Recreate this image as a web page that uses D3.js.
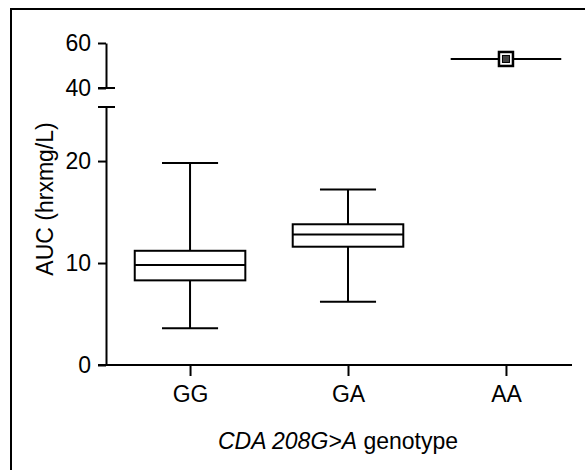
<!DOCTYPE html>
<html>
<head>
<meta charset="utf-8">
<script src="https://cdn.jsdelivr.net/npm/d3@7"></script>
<style>
  body { margin: 0; background: #fff; }
  text { font-family: "Liberation Sans", Arial, Helvetica, sans-serif; fill: #000; }
</style>
</head>
<body>
<div id="chart"></div>
<script>
// Data
// ============================================================================
const genotypes = ["GG", "GA", "AA"];
const whiskerLow = [3.6, 6.2, 52.9];
const q1 = [8.3, 11.6, 52.9];
const median = [9.8, 12.8, 52.9];
const q3 = [11.2, 13.8, 52.9];
const whiskerHigh = [19.8, 17.2, 52.9];
const lowerTicks = [0, 10, 20];
const upperTicks = [40, 60];

// Layout
// ============================================================================
const W = 585, H = 470,
    axisX = 106,
    xEnd = 572,
    lowerBreak = 25.3;

const svg = d3.select("#chart").append("svg")
    .attr("width", W)
    .attr("height", H);

// Frame (right and bottom edges are cropped in the scan)
svg.append("rect")
    .attr("x", 11).attr("y", 9)
    .attr("width", W + 20).attr("height", H + 20)
    .attr("fill", "none").attr("stroke", "#000").attr("stroke-width", 2);

// Scales: broken y axis, two linear pieces
const yLow = d3.scaleLinear().domain([0, lowerBreak]).range([365, 107]);
const yHigh = d3.scaleLinear().domain([40, 60]).range([88, 43]);
const y = v => v >= 40 ? yHigh(v) : yLow(v);

const x = d3.scalePoint()
    .domain(genotypes)
    .range([axisX, xEnd])
    .padding(0.475)
    .align(0.56);

const step = x.step(),
    boxW = step * 0.7,
    capW = step * 0.355;

// Y axis, lower part
const gLow = svg.append("g")
    .attr("transform", "translate(" + axisX + ",0)")
    .call(d3.axisLeft(yLow).tickValues(lowerTicks).tickSize(8).tickSizeOuter(0).tickPadding(7));

// Y axis, upper part
const gHigh = svg.append("g")
    .attr("transform", "translate(" + axisX + ",0)")
    .call(d3.axisLeft(yHigh).tickValues(upperTicks).tickSize(8).tickSizeOuter(0).tickPadding(7));

[gLow, gHigh].forEach(g => {
    g.selectAll("path, line").attr("stroke", "#000").attr("stroke-width", 2);
    g.selectAll("text").style("font-size", "23px").attr("fill", "#000");
});

// Break caps
[yHigh(40), yLow(lowerBreak)].forEach(yy => {
    svg.append("line")
        .attr("x1", axisX - 8).attr("x2", axisX + 9)
        .attr("y1", yy).attr("y2", yy)
        .attr("stroke", "#000").attr("stroke-width", 2);
});

// X axis
const gx = svg.append("g")
    .attr("transform", "translate(0," + yLow(0) + ")")
    .call(d3.axisBottom(x).tickSize(11).tickSizeOuter(0).tickPadding(10));
gx.select(".domain").attr("d", "M" + (axisX - 8) + ",0H" + xEnd);
gx.selectAll("path, line").attr("stroke", "#000").attr("stroke-width", 2);
gx.selectAll("text").style("font-size", "23px").attr("fill", "#000");

// Boxes
const boxes = genotypes.map((g, i) => ({
    g: g, lo: whiskerLow[i], q1: q1[i], med: median[i], q3: q3[i], hi: whiskerHigh[i]
}));

const bx = svg.append("g")
    .attr("stroke", "#000").attr("stroke-width", 2).attr("fill", "none");

boxes.forEach(d => {
    const cx = x(d.g);
    if (d.hi > d.lo) {
        // whiskers
        bx.append("line").attr("x1", cx).attr("x2", cx).attr("y1", y(d.hi)).attr("y2", y(d.q3));
        bx.append("line").attr("x1", cx).attr("x2", cx).attr("y1", y(d.q1)).attr("y2", y(d.lo));
        [d.hi, d.lo].forEach(v => {
            bx.append("line")
                .attr("x1", cx - capW / 2).attr("x2", cx + capW / 2)
                .attr("y1", y(v)).attr("y2", y(v));
        });
        bx.append("rect")
            .attr("x", cx - boxW / 2).attr("width", boxW)
            .attr("y", y(d.q3)).attr("height", y(d.q1) - y(d.q3));
        bx.append("line")
            .attr("x1", cx - boxW / 2).attr("x2", cx + boxW / 2)
            .attr("y1", y(d.med)).attr("y2", y(d.med));
    } else {
        // single observation: median line with a square marker
        bx.append("line")
            .attr("x1", cx - boxW / 2).attr("x2", cx + boxW / 2)
            .attr("y1", y(d.med)).attr("y2", y(d.med));
        bx.append("rect")
            .attr("x", cx - 7).attr("y", y(d.med) - 7)
            .attr("width", 14).attr("height", 14)
            .attr("fill", "#fff").attr("stroke-width", 2.5);
        bx.append("rect")
            .attr("x", cx - 3.5).attr("y", y(d.med) - 3.5)
            .attr("width", 7).attr("height", 7)
            .attr("fill", "#444").attr("stroke-width", 1);
    }
});

// Axis titles
svg.append("text")
    .attr("transform", "translate(53,199) rotate(-90)")
    .attr("text-anchor", "middle")
    .style("font-size", "23px")
    .text("AUC (hrxmg/L)");

const xt = svg.append("text")
    .attr("x", 338).attr("y", 449)
    .attr("text-anchor", "middle")
    .style("font-size", "23px");
xt.append("tspan").style("font-style", "italic").text("CDA 208G>A");
xt.append("tspan").text(" genotype");
</script>
</body>
</html>
